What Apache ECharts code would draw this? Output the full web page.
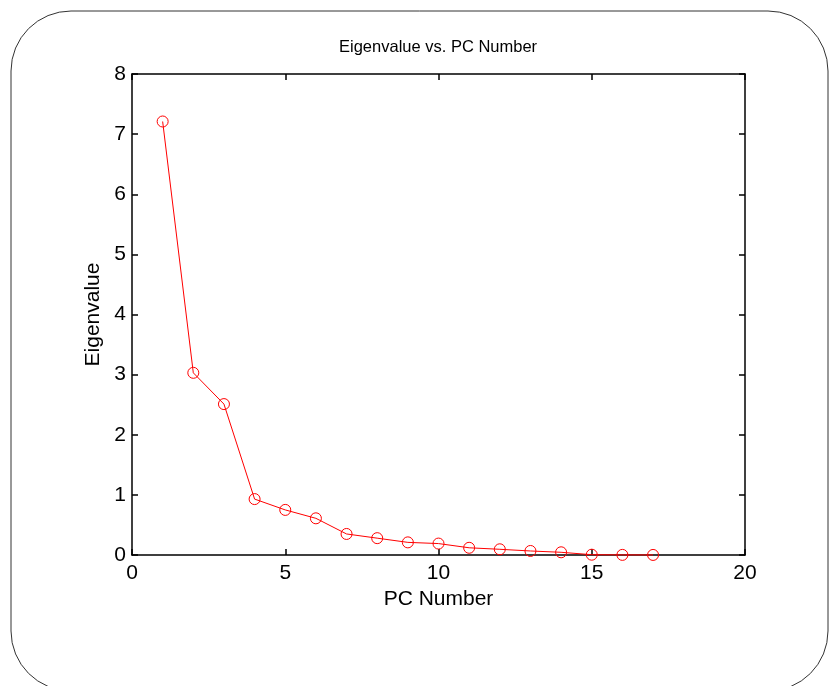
<!DOCTYPE html>
<html>
<head>
<meta charset="utf-8">
<script src="https://cdn.jsdelivr.net/npm/echarts@6/dist/echarts.min.js"></script>
<style>
html,body{margin:0;padding:0;background:#fff;}
#chart{width:830px;height:686px;}
</style>
</head>
<body>
<div id="chart"></div>
<script>
const pcNumbers = [1, 2, 3, 4, 5, 6, 7, 8, 9, 10, 11, 12, 13, 14, 15, 16, 17];
const eigenvalues = [7.21, 3.03, 2.51, 0.93, 0.75, 0.61, 0.35, 0.28, 0.21, 0.19, 0.12, 0.095, 0.067, 0.045, 0.005, 0.002, 0.001];
const titleText = 'Eigenvalue vs. PC Number';
const xName = 'PC Number';
const yName = 'Eigenvalue';

const FONT = '"Liberation Sans", Arial, sans-serif';
const chart = echarts.init(document.getElementById('chart'), null, {renderer: 'canvas'});

const axisLine = {show: true, onZero: false, lineStyle: {color: '#000', width: 1.5}};
const axisTick = {show: true, inside: true, length: 6, lineStyle: {color: '#000', width: 1.5}};

chart.setOption({
  animation: false,
  backgroundColor: '#fff',
  title: {
    text: titleText,
    left: 339,
    top: 39,
    padding: 0,
    textStyle: {fontFamily: FONT, fontSize: 16.5, fontWeight: 'normal', color: '#000'}
  },
  graphic: [{
    type: 'rect',
    shape: {x: 11, y: 11, width: 817, height: 680, r: 60},
    style: {fill: 'none', stroke: '#333', lineWidth: 1},
    silent: true,
    z: -1
  }],
  grid: {left: 132, right: 85, top: 74, bottom: 131, containLabel: false},
  xAxis: [{
    type: 'value', min: 0, max: 20, interval: 5, position: 'bottom',
    name: xName, nameLocation: 'middle', nameGap: 33,
    nameTextStyle: {fontFamily: FONT, fontSize: 21, color: '#000'},
    axisLine: axisLine, axisTick: axisTick,
    axisLabel: {fontFamily: FONT, fontSize: 21, color: '#000', margin: 8},
    splitLine: {show: false}
  }, {
    type: 'value', min: 0, max: 20, interval: 5, position: 'top',
    axisLine: axisLine, axisTick: axisTick,
    axisLabel: {show: false}, splitLine: {show: false}
  }],
  yAxis: [{
    type: 'value', min: 0, max: 8, interval: 1, position: 'left',
    name: yName, nameLocation: 'middle', nameGap: 26,
    nameTextStyle: {fontFamily: FONT, fontSize: 21, color: '#000'},
    axisLine: axisLine, axisTick: axisTick,
    axisLabel: {fontFamily: FONT, fontSize: 21, color: '#000', margin: 6},
    splitLine: {show: false}
  }, {
    type: 'value', min: 0, max: 8, interval: 1, position: 'right',
    axisLine: axisLine, axisTick: axisTick,
    axisLabel: {show: false}, splitLine: {show: false}
  }],
  series: [{
    type: 'line',
    xAxisIndex: 0, yAxisIndex: 0,
    data: pcNumbers.map((x, i) => [x, eigenvalues[i]]),
    symbol: 'circle',
    symbolSize: 11,
    showAllSymbol: true,
    lineStyle: {color: '#ff0000', width: 1},
    itemStyle: {color: 'rgba(0,0,0,0)', borderColor: '#ff0000', borderWidth: 1},
    clip: false
  }]
});
</script>
</body>
</html>
